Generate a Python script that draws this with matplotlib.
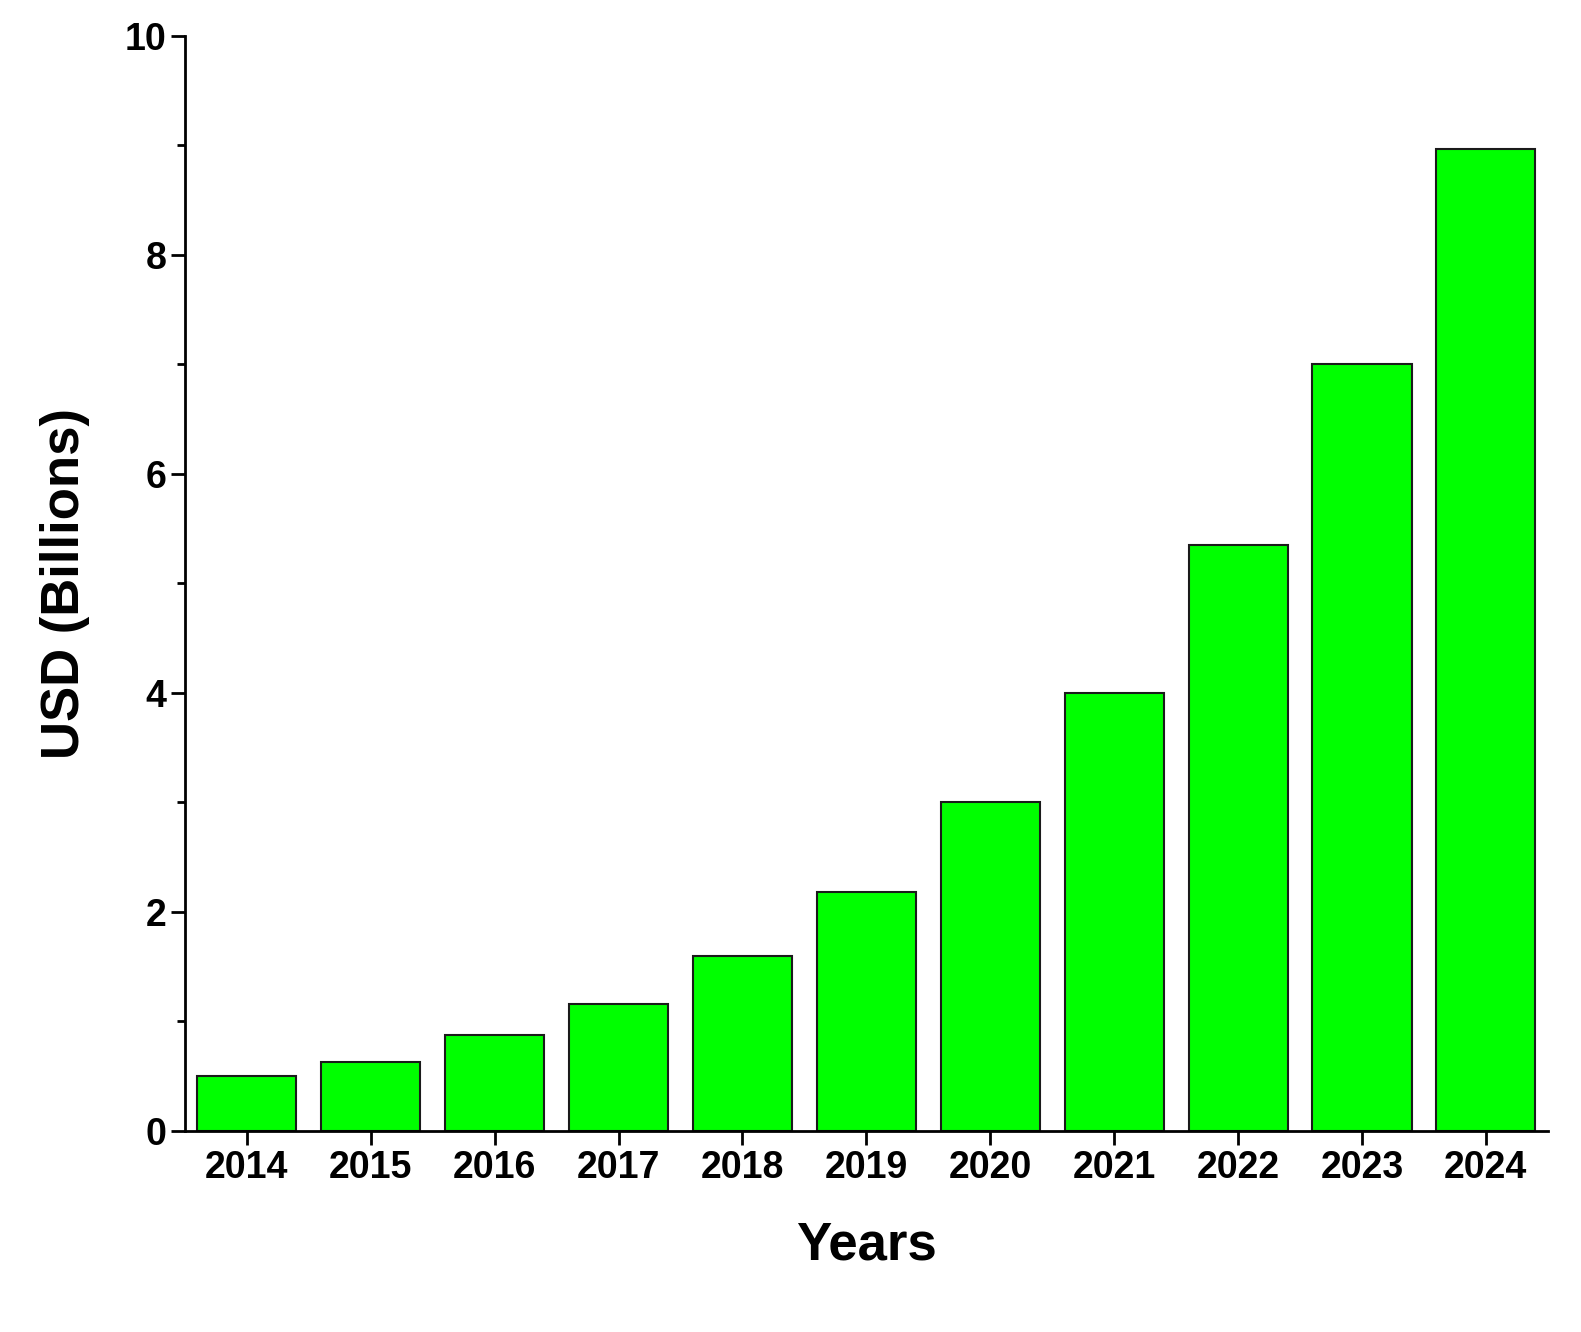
import matplotlib
matplotlib.use("Agg")
import matplotlib.pyplot as plt
from matplotlib.ticker import MultipleLocator

years = ["2014", "2015", "2016", "2017", "2018", "2019", "2020", "2021", "2022", "2023", "2024"]
values = [0.50, 0.63, 0.88, 1.16, 1.60, 2.18, 3.00, 4.00, 5.35, 7.00, 8.97]

plt.rcParams["font.family"] = ["Liberation Sans", "DejaVu Sans"]
plt.rcParams["font.weight"] = "bold"

fig = plt.figure(figsize=(15.81, 13.32), dpi=100)
ax = fig.add_axes([0.117, 0.151, 0.862, 0.822])

x = range(len(years))
ax.bar(x, values, width=0.8, color="#00ff00", edgecolor="#1a1a1a", linewidth=1.5)

ax.set_xlim(-0.5, 10.5)
ax.set_ylim(0, 10)
ax.set_xticks(list(x))
ax.set_xticklabels(years)
ax.yaxis.set_major_locator(MultipleLocator(2))
ax.yaxis.set_minor_locator(MultipleLocator(1))

for side in ("top", "right"):
    ax.spines[side].set_visible(False)
for side in ("left", "bottom"):
    ax.spines[side].set_linewidth(2)

ax.tick_params(axis="both", which="major", direction="out", length=10, width=2, labelsize=27)
ax.tick_params(axis="y", which="minor", direction="out", length=6, width=2)
for label in ax.get_xticklabels() + ax.get_yticklabels():
    label.set_fontweight("bold")

ax.set_xlabel("Years", fontsize=38, fontweight="bold", labelpad=25)
ax.set_ylabel("USD (Billions)", fontsize=38, fontweight="bold", labelpad=25)

fig.savefig("out.png", dpi=100)
